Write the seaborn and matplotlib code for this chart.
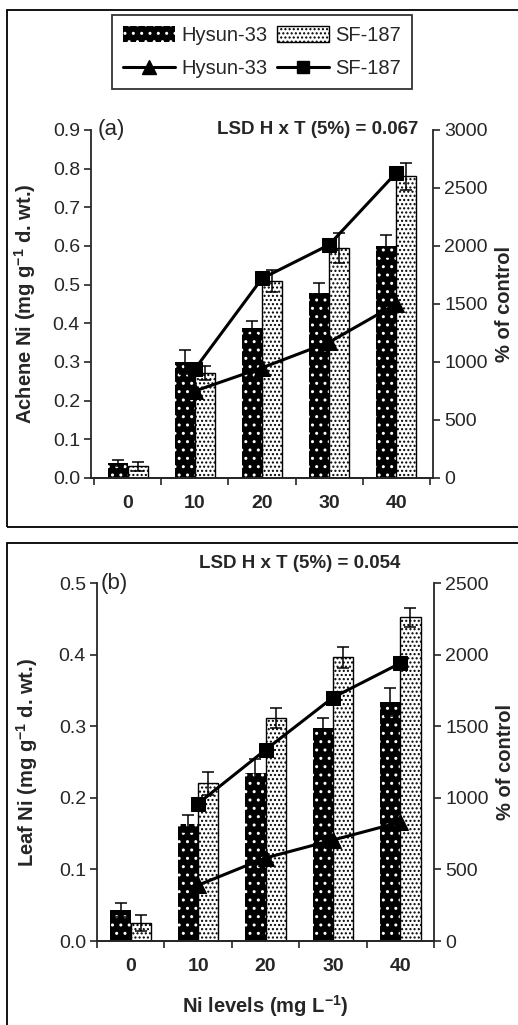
import numpy as np
import pandas as pd
import matplotlib
matplotlib.use("Agg")
import matplotlib.pyplot as plt
import seaborn as sns
from matplotlib.patches import Patch, Rectangle
from matplotlib.lines import Line2D
from matplotlib.ticker import FormatStrFormatter

levels = ["0", "10", "20", "30", "40"]
cultivars = ["Hysun-33", "SF-187"]
pct_levels = [1, 2, 3, 4]  # positions of 10..40 on the categorical axis

# (a) achene Ni (mg g-1 d. wt.)
achene_hysun = [0.039, 0.30, 0.387, 0.478, 0.60]
achene_sf = [0.030, 0.272, 0.51, 0.595, 0.78]
achene_hysun_err = [0.007, 0.03, 0.018, 0.026, 0.028]
achene_sf_err = [0.012, 0.018, 0.028, 0.038, 0.035]
achene_pct_hysun = [750, 950, 1170, 1500]
achene_pct_sf = [940, 1720, 2010, 2630]

# (b) leaf Ni (mg g-1 d. wt.)
leaf_hysun = [0.043, 0.164, 0.234, 0.298, 0.334]
leaf_sf = [0.025, 0.220, 0.311, 0.396, 0.452]
leaf_hysun_err = [0.010, 0.012, 0.020, 0.014, 0.020]
leaf_sf_err = [0.011, 0.016, 0.014, 0.015, 0.013]
leaf_pct_hysun = [390, 580, 705, 830]
leaf_pct_sf = [960, 1335, 1700, 1940]

sns.set_style("ticks")
plt.rcParams['font.family'] = ['Liberation Sans', 'DejaVu Sans']
plt.rcParams['mathtext.fontset'] = 'custom'
plt.rcParams['mathtext.rm'] = 'Liberation Sans'
plt.rcParams['mathtext.bf'] = 'Liberation Sans:bold'
plt.rcParams['hatch.linewidth'] = 1.0
plt.rcParams['axes.linewidth'] = 1.3

FS = 14


def draw_panel(ax, hysun, sf, hysun_err, sf_err, pct_h, pct_s, ymax, pmax, ylabel, tag):
	df = pd.DataFrame({
		"level": levels * 2,
		"cultivar": [cultivars[0]] * 5 + [cultivars[1]] * 5,
		"value": hysun + sf,
	})
	sns.barplot(data=df, x="level", y="value", hue="cultivar", order=levels,
	            hue_order=cultivars, width=0.6, errorbar=None, legend=False,
	            palette=["black", "white"], ax=ax)

	# style bars: black with white dots / white with fine black dots
	for bar in ax.containers[0]:
		bar.set_facecolor("black")
		bar.set_edgecolor("white")
		bar.set_hatch("..")
		bar.set_linewidth(0)
	for bar in ax.containers[1]:
		bar.set_facecolor("white")
		bar.set_edgecolor("black")
		bar.set_hatch("....")
		bar.set_linewidth(1.0)

	for cont, errs in zip(ax.containers[:2], [hysun_err, sf_err]):
		xs = [b.get_x() + b.get_width() / 2 for b in cont]
		ys = [b.get_height() for b in cont]
		ax.errorbar(xs, ys, yerr=errs, fmt="none", ecolor="black",
		            elinewidth=1.1, capsize=4, capthick=1.1, zorder=5)

	ax.set_ylim(0, ymax)
	ax.set_yticks(np.arange(0, ymax + 0.001, 0.1))
	ax.yaxis.set_major_formatter(FormatStrFormatter('%.1f'))
	ax.set_xlim(-0.55, 4.55)
	ax.set_xticks(range(5))
	ax.set_xticklabels(levels, fontweight="bold", fontsize=FS)
	ax.set_xticks(np.arange(-0.5, 5, 1), minor=True)
	ax.tick_params(axis="x", which="major", length=0, pad=12)
	ax.tick_params(axis="x", which="minor", length=5, width=1.2, direction="out")
	ax.tick_params(axis="y", length=5, width=1.2, direction="out", labelsize=FS, pad=3)
	ax.set_xlabel("")
	ax.set_ylabel(ylabel, fontweight="bold", fontsize=FS + 0.5)
	ax.spines["top"].set_visible(False)
	ax.spines["right"].set_visible(False)
	ax.text(-0.45, ymax, tag, fontsize=16, va="center", ha="left")

	ax2 = ax.twinx()
	sns.lineplot(x=pct_levels, y=pct_h, ax=ax2, color="black", linewidth=2.2,
	             marker="^", markersize=11, markeredgecolor="black")
	sns.lineplot(x=pct_levels, y=pct_s, ax=ax2, color="black", linewidth=2.2,
	             marker="s", markersize=10, markeredgecolor="black")
	ax2.set_ylim(0, pmax)
	ax2.set_yticks(np.arange(0, pmax + 1, 500))
	ax2.tick_params(axis="y", length=5, width=1.2, direction="out", labelsize=FS, pad=3)
	ax2.set_ylabel("% of control", fontweight="bold", fontsize=FS + 0.5)
	ax2.spines["top"].set_visible(False)
	ax2.spines["left"].set_visible(False)
	ax2.set_xlim(-0.55, 4.55)
	return ax2


fig = plt.figure(figsize=(5.18, 10.25), dpi=100)

# panel frames
fig.add_artist(Rectangle((7 / 518, 1 - 527 / 1025), 1.2, (527 - 10) / 1025,
                         transform=fig.transFigure, fill=False, lw=1.3, ec="black"))
fig.add_artist(Rectangle((7 / 518, -0.05), 1.2, 1 - 543 / 1025 + 0.05,
                         transform=fig.transFigure, fill=False, lw=1.3, ec="black"))

ax_a = fig.add_axes([91 / 518, 1 - 478 / 1025, 342 / 518, 348 / 1025])
ax_a2 = draw_panel(ax_a, achene_hysun, achene_sf, achene_hysun_err, achene_sf_err,
                   achene_pct_hysun, achene_pct_sf, 0.9, 3000,
                   r"Achene Ni (mg g$^{\mathbf{-1}}$ d. wt.)", "(a)")
ax_a.yaxis.set_label_coords(-0.155, 0.5)
ax_a2.yaxis.set_label_coords(1.18, 0.5)

ax_b = fig.add_axes([97 / 518, 1 - 941 / 1025, 337 / 518, 358 / 1025])
ax_b2 = draw_panel(ax_b, leaf_hysun, leaf_sf, leaf_hysun_err, leaf_sf_err,
                   leaf_pct_hysun, leaf_pct_sf, 0.5, 2500,
                   r"Leaf Ni (mg g$^{\mathbf{-1}}$ d. wt.)", "(b)")
ax_b.set_xlim(-0.5, 4.5)
ax_b2.set_xlim(-0.5, 4.5)
ax_b.yaxis.set_label_coords(-0.17, 0.5)
ax_b2.yaxis.set_label_coords(1.185, 0.5)
ax_b.set_xlabel(r"Ni levels (mg L$^{\mathbf{-1}}$)", fontweight="bold", fontsize=FS + 0.5, labelpad=13)

fig.text(418 / 518, 1 - 130 / 1025, "LSD H x T (5%) = 0.067", fontweight="bold",
         fontsize=13.5, ha="right", va="center")
fig.text(300 / 518, 1 - 563 / 1025, "LSD H x T (5%) = 0.054", fontweight="bold",
         fontsize=13.5, ha="center", va="center")

handles = [
	Patch(facecolor="black", edgecolor="white", hatch="..", linewidth=0),
	Line2D([], [], color="black", lw=2.2, marker="^", markersize=10),
	Patch(facecolor="white", edgecolor="black", hatch="....", linewidth=1.0),
	Line2D([], [], color="black", lw=2.2, marker="s", markersize=8),
]
labels = ["Hysun-33", "Hysun-33", "SF-187", "SF-187"]
leg = fig.legend(handles, labels, ncol=2, loc="center", bbox_to_anchor=(262 / 518, 1 - 52 / 1025),
                 frameon=True, fancybox=False, edgecolor="black", fontsize=14.5,
                 handlelength=2.6, handleheight=0.8, columnspacing=0.45, handletextpad=0.3,
                 borderpad=0.55, labelspacing=0.7, borderaxespad=0)
leg.get_frame().set_linewidth(1.3)

fig.savefig("out.png", dpi=100)
